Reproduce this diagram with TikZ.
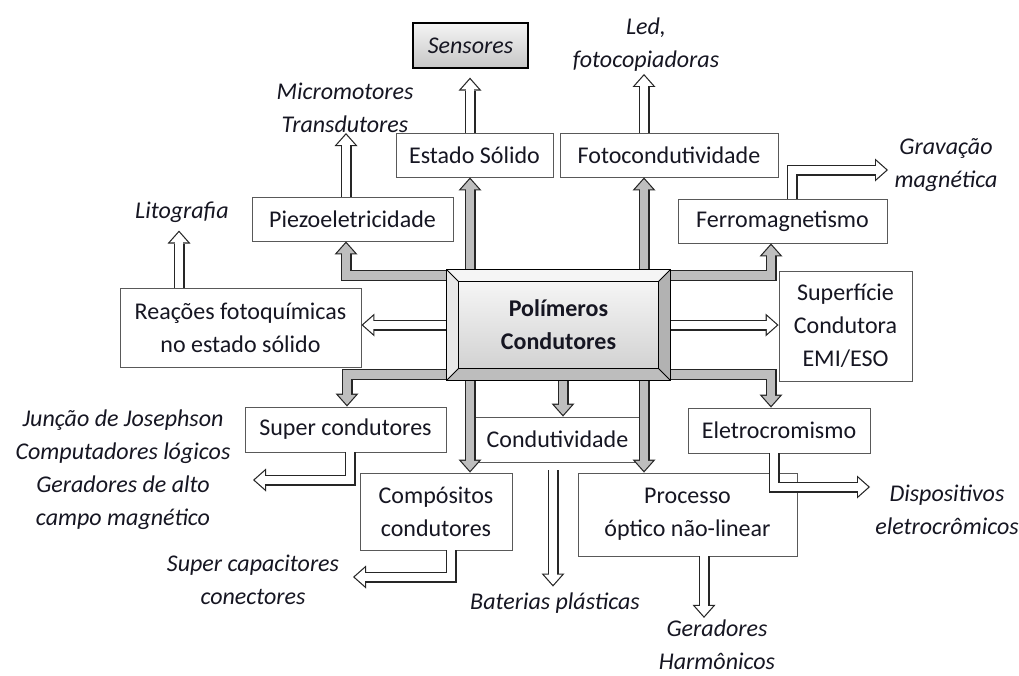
\documentclass[tikz,border=0pt]{standalone}
\usepackage{fontspec}
\setmainfont{Carlito}
\usetikzlibrary{arrows.meta,calc}
\definecolor{gfill}{RGB}{190,190,190}
\definecolor{txt}{RGB}{22,22,34}
\newcommand\fs{\fontsize{24}{33}\selectfont}
\tikzset{
  box/.style={draw=black!65, line width=0.9pt, fill=white, inner sep=0pt, align=center, font=\fs, text=txt},
  lbl/.style={font=\fs\itshape, align=center, text=txt, inner sep=0pt},
  fatO/.style={line width=11pt, draw=black!85, line cap=butt, line join=miter,
    -{Triangle[length=13pt,width=23pt,line width=0pt 0]}},
  fatI/.style={line width=8.6pt, line cap=butt, line join=miter,
    -{Triangle[length=10pt,width=17.7pt,line width=0pt 0]}},
}
\newcommand\hollow[3]{\draw[fatO,shorten >=#1] #3; \draw[fatI,draw=white,shorten >=#2] #3;}
\newcommand\graynet[1]{%
  \draw[#1] (topbar) -| (piezo.south -| xp);
  \draw[#1] (topbar -| xa) -- (sol.south -| xa);
  \draw[#1] (topbar -| xf) -- (foto.south -| xf);
  \draw[#1] (topbar) -| (ferro.south -| xfe);
  \draw[#1] (botbar) -| (supc.north -| xs);
  \draw[#1] (botbar -| xa) -- (comp.north -| xa);
  \draw[#1] (botbar -| xd) -- (cond.north -| xd);
  \draw[#1] (botbar -| xf) -- (proc.north -| xf);
  \draw[#1] (botbar) -| (eletro.north -| xfe);
}
\begin{document}
\begin{tikzpicture}[x=1pt,y=-1pt]
\useasboundingbox (0,0) rectangle (1019,675);
\fill[white] (0,0) rectangle (1019,675);

% boxes
\node[box, draw=black, line width=1.3pt, top color=gray!8, bottom color=gray!45,
      minimum width=115pt, minimum height=45pt] (sens) at (470.5,45.5) {\itshape Sensores};
\node[box, minimum width=157pt, minimum height=44pt] (sol) at (474.5,155) {Estado Sólido};
\node[box, minimum width=218pt, minimum height=44pt] (foto) at (669,155) {Fotocondutividade};
\node[box, minimum width=201pt, minimum height=44pt] (piezo) at (352.5,219) {Piezoeletricidade};
\node[box, minimum width=209pt, minimum height=44pt] (ferro) at (782.5,221) {Ferromagnetismo};
\node[box, minimum width=241pt, minimum height=79pt] (reac) at (240.5,327.5) {Reações fotoquímicas\\no estado sólido};
\node[box, minimum width=133pt, minimum height=110pt] (sup) at (845.5,326) {Superfície\\Condutora\\EMI/ESO};
\node[box, minimum width=201pt, minimum height=45pt] (supc) at (345.5,429.5) {Super condutores};
\node[box, minimum width=165pt, minimum height=45pt] (cond) at (557.5,439.5) {Condutividade};
\node[box, minimum width=182pt, minimum height=45pt] (eletro) at (779,430.5) {Eletrocromismo};
\node[box, minimum width=152pt, minimum height=77pt] (comp) at (436,511.5) {Compósitos\\condutores};
\node[box, minimum width=219pt, minimum height=83pt] (proc) at (687.5,514.5) {Processo\\óptico não-linear};
\node[minimum width=223pt, minimum height=110pt, inner sep=0pt] (cent) at (558.5,325) {};

% free labels
\node[lbl] (led) at (646,45) {Led,\\fotocopiadoras};
\node[lbl] (micro) at (345,108) {Micromotores\\Transdutores};
\node[lbl] (lito) at (182,212) {Litografia};
\node[lbl] (grav) at (946,165) {Gravação\\magnética};
\node[lbl] (junc) at (123,470) {Junção de Josephson\\Computadores lógicos\\Geradores de alto\\campo magnético};
\node[lbl] (scap) at (253,580) {Super capacitores\\conectores};
\node[lbl] (bat) at (555,603) {Baterias plásticas};
\node[lbl] (ger) at (717,645) {Geradores\\Harmônicos};
\node[lbl] (disp) at (947,510) {Dispositivos\\eletrocrômicos};

% helper coordinates
\coordinate (topbar) at ([yshift=-5.5pt]cent.north);
\coordinate (botbar) at ([yshift=5.5pt]cent.south);
\coordinate (xa) at (470,0);
\coordinate (xf) at (644,0);
\coordinate (xp) at (346,0);
\coordinate (xfe) at (771,0);
\coordinate (xs) at (347,0);
\coordinate (xd) at (563,0);
\coordinate (xl) at (179,0);
\coordinate (xgr) at (792,0);
\coordinate (xel) at (774,0);
\coordinate (xsc) at (350,0);
\coordinate (xco) at (451,0);
\coordinate (xg) at (704,0);
\coordinate (grend) at (888,170);
\coordinate (elend) at (870,487);
\coordinate (scend) at (253,480);
\coordinate (coend) at (353,577);
\coordinate (batst) at (553,470);

% gray connectors from the central box
\graynet{fatO}
\graynet{fatI,draw=gfill,shorten >=1.8pt}

% hollow connectors
\hollow{0pt}{1.8pt}{(cent.west) -- (cent.west -| reac.east)}
\hollow{0pt}{1.8pt}{(cent.east) -- (cent.east -| sup.west)}
\hollow{9pt}{10.8pt}{(sol.north -| xa) -- (sens.south -| xa)}
\hollow{2pt}{3.8pt}{(foto.north -| xf) -- (led.south -| xf)}
\hollow{0pt}{1.8pt}{(piezo.north -| xp) -- (micro.south -| xp)}
\hollow{8pt}{9.8pt}{(reac.north -| xl) -- (lito.south -| xl)}
\hollow{0pt}{1.8pt}{(ferro.north -| xgr) |- (grend)}
\hollow{0pt}{1.8pt}{(eletro.south -| xel) |- (elend)}
\hollow{0pt}{1.8pt}{(supc.south -| xsc) |- (scend)}
\hollow{0pt}{1.8pt}{(comp.south -| xco) |- (coend)}
\hollow{6pt}{7.8pt}{(batst) -- (bat.north -| batst)}
\hollow{2pt}{3.8pt}{(proc.south -| xg) -- (ger.north -| xg)}

% central bevelled box
\coordinate (o1) at (cent.north west);
\coordinate (o2) at (cent.north east);
\coordinate (o3) at (cent.south east);
\coordinate (o4) at (cent.south west);
\coordinate (i1) at ([shift={(12pt,-12pt)}]cent.north west);
\coordinate (i2) at ([shift={(-12pt,-12pt)}]cent.north east);
\coordinate (i3) at ([shift={(-12pt,12pt)}]cent.south east);
\coordinate (i4) at ([shift={(12pt,12pt)}]cent.south west);
\fill[gray!8] (o1) -- (o2) -- (i2) -- (i1) -- cycle;
\fill[gray!18] (o1) -- (i1) -- (i4) -- (o4) -- cycle;
\fill[gray!60] (o2) -- (o3) -- (i3) -- (i2) -- cycle;
\fill[gray!52] (o4) -- (i4) -- (i3) -- (o3) -- cycle;
\shade[top color=gray!8, bottom color=gray!35] (i1) rectangle (i3);
\draw[black, line width=1.2pt] (o1) rectangle (o3);
\draw[black, line width=1.2pt] (i1) rectangle (i3);
\draw[black, line width=0.9pt] (o1) -- (i1) (o2) -- (i2) (o3) -- (i3) (o4) -- (i4);
\node[font=\fs\bfseries, text=txt, align=center, inner sep=0pt] (title) at (cent.center) {Polímeros\\Condutores};
\end{tikzpicture}
\end{document}
